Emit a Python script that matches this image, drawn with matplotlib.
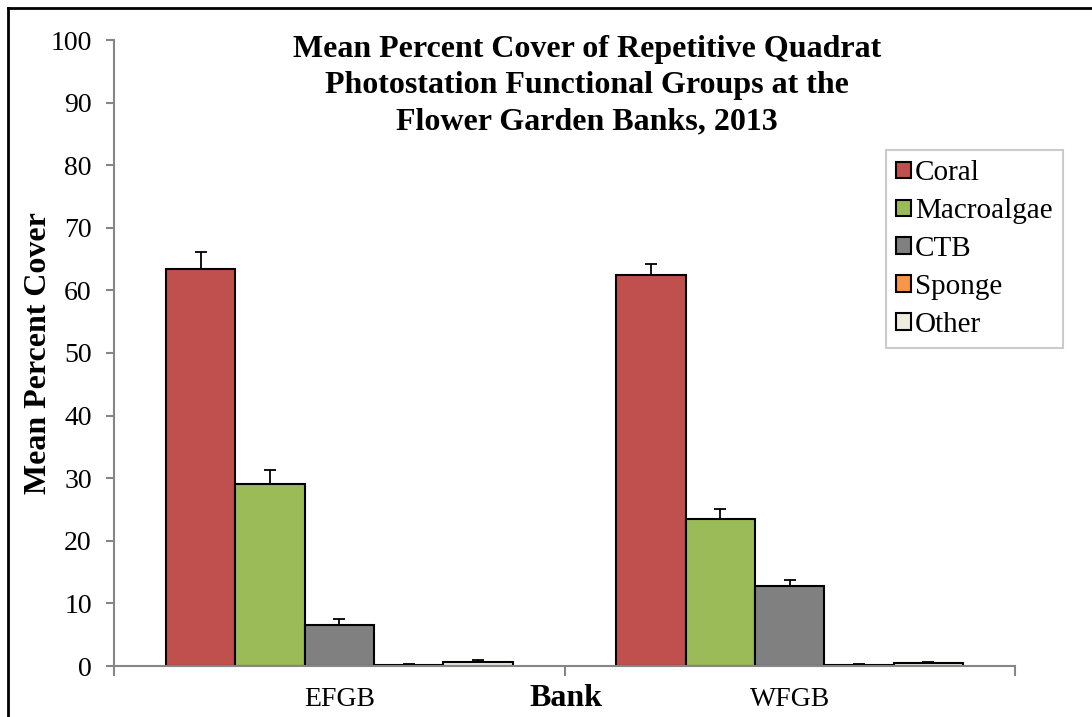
"""Mean percent cover of photostation functional groups, FGB 2013."""

import matplotlib.pyplot as plt
from matplotlib.lines import Line2D
import numpy as np

banks = ["EFGB", "WFGB"]
groups = ["Coral", "Macroalgae", "CTB", "Sponge", "Other"]
colors = ["#C0504D", "#9BBB59", "#808080", "#F79646", "#EEECE1"]

# mean percent cover per group, [EFGB, WFGB]
coral = [63.4, 62.4]
macroalgae = [29.0, 23.5]
ctb = [6.6, 12.7]
sponge = [0.2, 0.2]
other = [0.7, 0.5]

# standard error (plotted upward only)
coral_se = [2.7, 1.8]
macroalgae_se = [2.3, 1.6]
ctb_se = [0.9, 1.0]
sponge_se = [0.05, 0.05]
other_se = [0.2, 0.1]

means = [coral, macroalgae, ctb, sponge, other]
errs = [coral_se, macroalgae_se, ctb_se, sponge_se, other_se]

plt.rcParams["font.family"] = ["Liberation Serif", "DejaVu Serif"]

fig = plt.figure(figsize=(10.92, 7.17), dpi=100)
fig.patch.set_facecolor("white")
ax = fig.add_axes([114 / 1092, 1 - 666 / 717, (1015 - 114) / 1092, (666 - 40) / 717])

x = np.arange(len(banks))
width = 1 / 6.5
for i, (vals, se, name, col) in enumerate(zip(means, errs, groups, colors)):
    pos = x + (i - 2) * width
    ax.bar(pos, vals, width, color=col, edgecolor="black", linewidth=1.5,
           label=name, zorder=2)
    ax.errorbar(pos, vals, yerr=[[0] * len(se), se], fmt="none",
                ecolor="black", elinewidth=1.3, capsize=4, capthick=1.3, zorder=3)

ax.set_xlim(-0.5, 1.5)
ax.set_ylim(0, 100)
ax.set_yticks(range(0, 101, 10))
ax.tick_params(axis="y", labelsize=20, length=6, width=1.5, color="#868686", pad=10)
ax.set_xticks(x)
ax.set_xticklabels(banks, fontsize=20)
ax.tick_params(axis="x", length=0, pad=15)
ax.set_xticks([-0.5, 0.5, 1.5], minor=True)
ax.tick_params(axis="x", which="minor", length=7, width=1.5, color="#868686")

for s in ["top", "right"]:
    ax.spines[s].set_visible(False)
for s in ["left", "bottom"]:
    ax.spines[s].set_color("#868686")
    ax.spines[s].set_linewidth(1.5)
ax.spines["bottom"].set_zorder(4)

ax.set_ylabel("Mean Percent Cover", fontsize=23, fontweight="bold", labelpad=-2)
fig.text(566 / 1092, 1 - 698 / 717, "Bank", ha="center", va="center",
         fontsize=23, fontweight="bold")

fig.text(587 / 1092, 1 - 35 / 717,
         "Mean Percent Cover of Repetitive Quadrat\n"
         "Photostation Functional Groups at the\n"
         "Flower Garden Banks, 2013",
         ha="center", va="top", fontsize=23, fontweight="bold", linespacing=1.33)

handles = [plt.Rectangle((0, 0), 1, 1, facecolor=c, edgecolor="black", linewidth=1.5)
           for c in colors]
leg = ax.legend(handles, groups, loc="upper right",
                bbox_to_anchor=((1063 - 114) / 901, (666 - 150) / 626),
                fontsize=21, frameon=True, fancybox=False, handlelength=0.5,
                handleheight=0.5, handletextpad=0.15, labelspacing=0.41,
                borderpad=0.35, borderaxespad=0)
leg.get_frame().set_edgecolor("#BFBFBF")
leg.get_frame().set_linewidth(1.5)

# outer frame of the chart area
fig.add_artist(Line2D([8 / 1092, 8 / 1092], [0, 1 - 8 / 717], color="black", lw=2,
                      transform=fig.transFigure))
fig.add_artist(Line2D([8 / 1092, 1], [1 - 8 / 717, 1 - 8 / 717], color="black", lw=2,
                      transform=fig.transFigure))

fig.savefig("out.png", dpi=100, facecolor="white")
